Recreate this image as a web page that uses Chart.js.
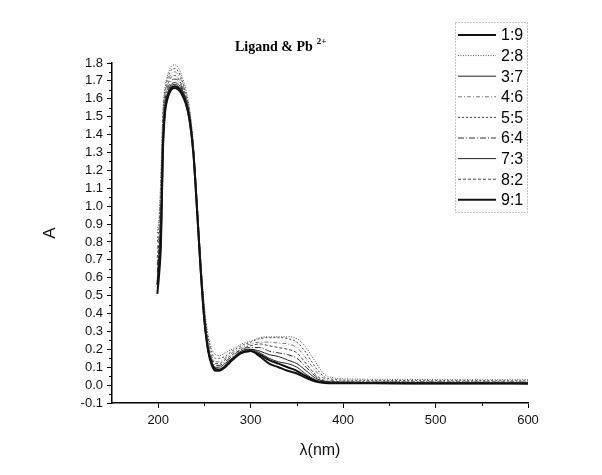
<!DOCTYPE html>
<html>
<head>
<meta charset="utf-8">
<script src="https://cdn.jsdelivr.net/npm/chart.js@4"></script>
<style>
  html, body { margin: 0; padding: 0; background: #fff; }
  #wrap { width: 602px; height: 475px; }
</style>
</head>
<body>
<div id="wrap"><canvas id="chart" width="602" height="475"></canvas></div>
<script>
/* ------------------------------------------------------------
   DATA
   ------------------------------------------------------------ */
const wavelengths = [199, 201, 203, 205, 207, 210, 214, 218, 222, 226, 230, 234, 238, 242, 246, 250, 254, 258, 262, 266,
                     272, 280, 290, 300, 310, 320, 330, 340, 350, 360, 370, 380, 390, 400, 450, 500, 550, 600];

const ratioLabels = ["1:9", "2:8", "3:7", "4:6", "5:5", "6:4", "7:3", "8:2", "9:1"];

const s1_9 = [0.51, 0.62, 0.80, 1.30, 1.50, 1.60, 1.65, 1.66, 1.65, 1.62, 1.57, 1.48, 1.30, 0.98, 0.64, 0.36, 0.19, 0.11, 0.08, 0.08,
              0.10, 0.14, 0.18, 0.19, 0.16, 0.12, 0.10, 0.08, 0.065, 0.04, 0.02, 0.012, 0.010, 0.010, 0.010, 0.009, 0.009, 0.008];
const s2_8 = [0.85, 0.95, 1.20, 1.52, 1.65, 1.73, 1.78, 1.79, 1.77, 1.72, 1.65, 1.54, 1.35, 1.03, 0.70, 0.44, 0.28, 0.20, 0.17, 0.165,
              0.18, 0.20, 0.23, 0.245, 0.265, 0.27, 0.27, 0.27, 0.26, 0.21, 0.13, 0.06, 0.040, 0.035, 0.032, 0.031, 0.030, 0.030];
const s3_7 = [0.63, 0.74, 0.95, 1.39, 1.55, 1.63, 1.68, 1.69, 1.68, 1.65, 1.59, 1.50, 1.31, 0.99, 0.65, 0.38, 0.21, 0.13, 0.10, 0.10,
              0.12, 0.15, 0.19, 0.20, 0.19, 0.17, 0.16, 0.14, 0.12, 0.08, 0.04, 0.020, 0.016, 0.015, 0.014, 0.013, 0.013, 0.012];
const s4_6 = [0.76, 0.86, 1.10, 1.48, 1.61, 1.69, 1.74, 1.75, 1.73, 1.69, 1.62, 1.52, 1.33, 1.01, 0.68, 0.41, 0.24, 0.16, 0.13, 0.13,
              0.15, 0.18, 0.21, 0.23, 0.24, 0.24, 0.235, 0.23, 0.21, 0.15, 0.08, 0.035, 0.025, 0.022, 0.020, 0.020, 0.019, 0.019];
const s5_5 = [0.80, 0.90, 1.15, 1.50, 1.63, 1.71, 1.76, 1.77, 1.75, 1.70, 1.63, 1.53, 1.34, 1.02, 0.69, 0.42, 0.26, 0.18, 0.15, 0.15,
              0.16, 0.19, 0.22, 0.24, 0.26, 0.265, 0.265, 0.26, 0.24, 0.18, 0.10, 0.045, 0.032, 0.028, 0.026, 0.025, 0.025, 0.024];
const s6_4 = [0.67, 0.78, 1.00, 1.42, 1.57, 1.65, 1.70, 1.71, 1.70, 1.66, 1.60, 1.50, 1.32, 1.00, 0.66, 0.39, 0.22, 0.14, 0.11, 0.11,
              0.13, 0.16, 0.20, 0.21, 0.21, 0.19, 0.18, 0.17, 0.15, 0.10, 0.05, 0.022, 0.018, 0.017, 0.016, 0.015, 0.015, 0.014];
const s7_3 = [0.60, 0.70, 0.90, 1.36, 1.54, 1.62, 1.67, 1.68, 1.67, 1.64, 1.58, 1.49, 1.31, 0.99, 0.65, 0.37, 0.20, 0.12, 0.09, 0.09,
              0.11, 0.15, 0.19, 0.20, 0.18, 0.15, 0.13, 0.12, 0.10, 0.06, 0.03, 0.016, 0.014, 0.013, 0.012, 0.011, 0.011, 0.011];
const s8_2 = [0.71, 0.82, 1.05, 1.45, 1.59, 1.67, 1.72, 1.73, 1.71, 1.67, 1.61, 1.51, 1.32, 1.00, 0.67, 0.40, 0.23, 0.15, 0.12, 0.12,
              0.14, 0.17, 0.20, 0.22, 0.23, 0.22, 0.21, 0.20, 0.18, 0.12, 0.06, 0.025, 0.020, 0.019, 0.018, 0.017, 0.017, 0.016];
const s9_1 = [0.56, 0.67, 0.85, 1.33, 1.52, 1.61, 1.66, 1.67, 1.66, 1.63, 1.58, 1.48, 1.30, 0.98, 0.64, 0.36, 0.20, 0.12, 0.09, 0.085,
              0.10, 0.14, 0.18, 0.19, 0.17, 0.14, 0.12, 0.10, 0.08, 0.05, 0.025, 0.014, 0.012, 0.012, 0.011, 0.010, 0.010, 0.010];

const seriesValues = [s1_9, s2_8, s3_7, s4_6, s5_5, s6_4, s7_3, s8_2, s9_1];

/* tick positions */
const xMajorTicks = [200, 300, 400, 500, 600];
const xMinorTicks = [250, 350, 450, 550];
const yMinorTicks = [-0.05, 0.05, 0.15, 0.25, 0.35, 0.45, 0.55, 0.65, 0.75, 0.85, 0.95,
                     1.05, 1.15, 1.25, 1.35, 1.45, 1.55, 1.65, 1.75];

/* line look per ratio, taken from the legend */
const lineStyles = [
    { color: "#111", width: 2,   dash: [] },
    { color: "#555", width: 1,   dash: [1, 1.5] },
    { color: "#222", width: 1,   dash: [] },
    { color: "#777", width: 1,   dash: [4, 2, 1, 2] },
    { color: "#444", width: 1,   dash: [2, 2] },
    { color: "#333", width: 1,   dash: [6, 2, 1, 2] },
    { color: "#222", width: 1,   dash: [] },
    { color: "#444", width: 1,   dash: [3, 2] },
    { color: "#111", width: 2,   dash: [] }
];

/* ------------------------------------------------------------
   PLUGINS: serif title with superscript, boxed legend, minor ticks
   ------------------------------------------------------------ */
const titlePlugin = {
    id: "titlePlugin",
    afterDraw(chart) {
        const { ctx } = chart;
        ctx.save();
        ctx.fillStyle = "#000";
        ctx.textBaseline = "alphabetic";
        ctx.font = "bold 14px 'Liberation Serif', 'Times New Roman', serif";
        const main = "Ligand & Pb";
        const x0 = 235, y0 = 51;
        ctx.fillText(main, x0, y0);
        const w = ctx.measureText(main).width;
        ctx.font = "bold 9px 'Liberation Serif', 'Times New Roman', serif";
        ctx.fillText("2+", x0 + w + 4, y0 - 7);
        ctx.restore();
    }
};

const boxLegendPlugin = {
    id: "boxLegendPlugin",
    afterDraw(chart) {
        const { ctx } = chart;
        const left = 455, top = 22, right = 527, bottom = 212;
        ctx.save();
        ctx.strokeStyle = "#888";
        ctx.lineWidth = 1;
        ctx.setLineDash([1, 2]);
        ctx.strokeRect(left + 0.5, top + 0.5, right - left, bottom - top);

        ctx.font = "16px Arial, 'Liberation Sans', sans-serif";
        ctx.textBaseline = "middle";
        ctx.fillStyle = "#000";
        chart.data.datasets.forEach((ds, i) => {
            const y = 35 + i * 20.6;
            ctx.strokeStyle = ds.borderColor;
            ctx.lineWidth = ds.borderWidth;
            ctx.setLineDash(ds.borderDash || []);
            ctx.beginPath();
            ctx.moveTo(458, y);
            ctx.lineTo(496, y);
            ctx.stroke();
            ctx.fillText(ds.label, 501, y + 1);
        });
        ctx.restore();
    }
};

const minorTicksPlugin = {
    id: "minorTicksPlugin",
    afterDraw(chart) {
        const { ctx } = chart;
        const x = chart.scales.x, y = chart.scales.y;
        ctx.save();
        ctx.strokeStyle = "#000";
        ctx.lineWidth = 1;
        ctx.beginPath();
        xMinorTicks.forEach(v => {
            const px = Math.round(x.getPixelForValue(v)) + 0.5;
            ctx.moveTo(px, y.bottom);
            ctx.lineTo(px, y.bottom + 3);
        });
        yMinorTicks.forEach(v => {
            const py = Math.round(y.getPixelForValue(v)) + 0.5;
            ctx.moveTo(x.left, py);
            ctx.lineTo(x.left - 3, py);
        });
        ctx.stroke();
        ctx.restore();
    }
};

/* ------------------------------------------------------------
   CHART
   ------------------------------------------------------------ */
const datasets = ratioLabels.map((label, i) => ({
    label,
    data: wavelengths.map((w, k) => ({ x: w, y: seriesValues[i][k] })),
    borderColor: lineStyles[i].color,
    borderWidth: lineStyles[i].width,
    borderDash: lineStyles[i].dash,
    pointRadius: 0,
    fill: false,
    cubicInterpolationMode: "monotone"
}));

new Chart(document.getElementById("chart"), {
    type: "line",
    data: { datasets },
    options: {
        responsive: false,
        animation: false,
        layout: { padding: { left: 0, right: 74, top: 63, bottom: 0 } },
        plugins: {
            legend: { display: false },
            title: { display: false },
            tooltip: { enabled: false }
        },
        scales: {
            x: {
                type: "linear",
                min: 150,
                max: 600,
                afterBuildTicks(scale) {
                    scale.ticks = xMajorTicks.map(v => ({ value: v }));
                },
                afterFit(scale) { scale.height = 72; },
                ticks: {
                    color: "#111",
                    font: { family: "Arial, 'Liberation Sans', sans-serif", size: 13 },
                    padding: 5,
                    maxRotation: 0,
                    autoSkip: false
                },
                grid: {
                    drawOnChartArea: false,
                    drawTicks: true,
                    tickLength: 5,
                    color: "#000"
                },
                border: { display: true, color: "#000", width: 1.5 },
                title: {
                    display: true,
                    text: "λ(nm)",
                    color: "#111",
                    font: { family: "Arial, 'Liberation Sans', sans-serif", size: 16 },
                    padding: { top: 0, bottom: 15 }
                }
            },
            y: {
                min: -0.1,
                max: 1.8,
                afterFit(scale) { scale.width = 112; },
                ticks: {
                    stepSize: 0.1,
                    color: "#111",
                    font: { family: "Arial, 'Liberation Sans', sans-serif", size: 13 },
                    padding: 4,
                    autoSkip: false,
                    callback: v => Number(v).toFixed(1)
                },
                grid: {
                    drawOnChartArea: false,
                    drawTicks: true,
                    tickLength: 5,
                    color: "#000"
                },
                border: { display: true, color: "#000", width: 1.5 },
                title: {
                    display: true,
                    text: "A",
                    color: "#111",
                    font: { family: "Arial, 'Liberation Sans', sans-serif", size: 17 },
                    padding: { top: 40, bottom: 0 }
                }
            }
        }
    },
    plugins: [titlePlugin, boxLegendPlugin, minorTicksPlugin]
});
</script>
</body>
</html>
